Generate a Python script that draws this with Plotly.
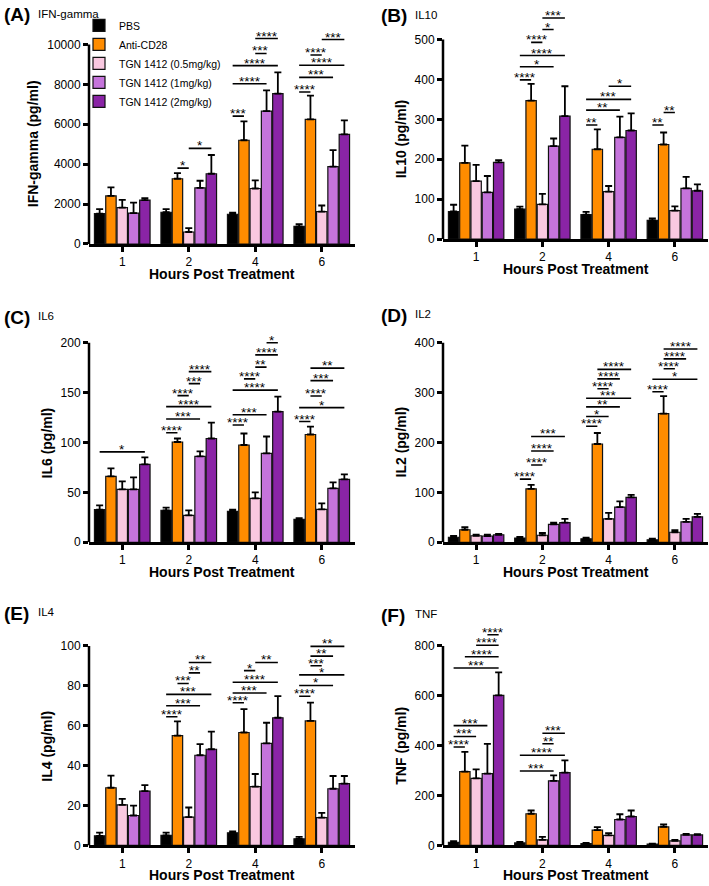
import plotly.graph_objects as go

hours = ['1', '2', '4', '6']
treatments = ['PBS', 'Anti-CD28', 'TGN 1412 (0.5mg/kg)', 'TGN 1412 (1mg/kg)', 'TGN 1412 (2mg/kg)']
colors = ['#000000', '#FF8C00', '#F9C8E0', '#C574DB', '#8A24A6']

# mean values, one row per treatment, one column per hour
ifn_mean = [[1520, 1590, 1490, 880], [2410, 3270, 5200, 6250], [1820, 600, 2780, 1620],
            [1550, 2810, 6660, 3880], [2200, 3520, 7540, 5490]]
ifn_sem = [[230, 160, 80, 120], [430, 280, 950, 1190], [390, 190, 410, 310],
           [520, 360, 1040, 820], [100, 940, 1060, 710]]
il10_mean = [[69, 75, 61, 47], [191, 347, 225, 237], [145, 87, 119, 71],
             [117, 233, 255, 127], [192, 308, 272, 121]]
il10_sem = [[17, 6, 7, 5], [43, 42, 50, 30], [41, 26, 14, 11],
            [41, 19, 52, 29], [6, 75, 43, 16]]
il6_mean = [[32.6, 32, 31, 23], [66, 100.5, 97.5, 108], [53, 27, 44, 33],
            [53, 86, 89, 54], [78, 104, 131, 63]]
il6_sem = [[4.4, 2.6, 1.6, 1.2], [8, 3.5, 11.5, 8], [8, 5, 6, 6],
           [12, 5, 17, 6], [7, 16, 15, 5]]
il2_mean = [[10, 8.5, 7, 5], [25, 107, 197, 258], [13, 14, 47, 20],
            [12.5, 36, 70.5, 41], [15, 39.5, 90, 51]]
il2_sem = [[2.5, 2, 2, 2], [5, 8, 22, 35], [2, 4.5, 12, 4],
           [2.5, 3.5, 11.5, 6], [1.5, 7.5, 5, 6]]
il4_mean = [[4.8, 5, 6.3, 3.3], [28.9, 55, 56.6, 62.4], [20.3, 14.2, 29.5, 13.9],
            [15, 45.2, 51.2, 28.4], [27.2, 48.2, 64, 31]]
il4_sem = [[1.6, 1.4, 0.7, 1], [6.1, 7.2, 11.7, 9.2], [3, 4.8, 6.3, 2.4],
           [5, 5.6, 10.3, 6.4], [3, 8.8, 10.8, 3.8]]
tnf_mean = [[12, 10, 7, 5], [296, 127, 61, 74], [269, 22, 40, 18],
            [288, 259, 104, 42], [602, 292, 116, 42]]
tnf_sem = [[5, 4, 3, 2], [79, 13, 12, 10], [36, 12, 9, 4],
           [119, 22, 21, 4], [92, 49, 24, 3]]

# significance brackets: (hour index, from treatment, to treatment, level, label)
ifn_sig = [(1, 1, 2, 3800, '*'), (1, 2, 4, 4790, '*'),
           (2, 0, 1, 6410, '***'), (2, 0, 3, 8030, '****'), (2, 0, 4, 8940, '****'),
           (2, 2, 3, 9550, '***'), (2, 2, 4, 10300, '****'),
           (3, 0, 1, 7620, '****'), (3, 0, 3, 8350, '***'), (3, 0, 4, 8960, '****'),
           (3, 1, 2, 9470, '****'), (3, 2, 4, 10250, '***')]
il10_sig = [(1, 0, 1, 399, '****'), (1, 0, 3, 432, '*'), (1, 0, 4, 460, '****'),
            (1, 1, 2, 493, '****'), (1, 2, 3, 525, '*'), (1, 2, 4, 554, '***'),
            (2, 0, 1, 286, '**'), (2, 0, 3, 323, '**'), (2, 0, 4, 350, '***'), (2, 2, 4, 383, '*'),
            (3, 0, 1, 286, '**'), (3, 1, 2, 317, '**')]
il6_sig = [(0, 0, 4, 90.6, '*'),
           (1, 0, 1, 109.7, '****'), (1, 0, 3, 123.6, '***'), (1, 0, 4, 136, '****'),
           (1, 1, 2, 147, '****'), (1, 2, 3, 159, '***'), (1, 2, 4, 171, '****'),
           (2, 0, 1, 117.6, '****'), (2, 0, 3, 127.8, '***'), (2, 0, 4, 152.5, '****'),
           (2, 1, 2, 163.8, '****'), (2, 2, 3, 175.6, '**'), (2, 2, 4, 187.8, '****'),
           (2, 3, 4, 200, '*'),
           (3, 0, 1, 121, '****'), (3, 0, 4, 135, '*'), (3, 1, 2, 146.6, '****'),
           (3, 1, 3, 162, '***'), (3, 1, 4, 174.6, '**')]
il2_sig = [(1, 0, 1, 126.5, '****'), (1, 1, 2, 155, '****'), (1, 1, 3, 183, '****'),
           (1, 1, 4, 212, '***'),
           (2, 0, 1, 232.6, '****'), (2, 0, 2, 252, '*'), (2, 0, 3, 271.5, '**'),
           (2, 0, 4, 288.6, '***'), (2, 1, 2, 307.7, '****'), (2, 1, 3, 327.5, '****'),
           (2, 1, 4, 346.6, '****'),
           (3, 0, 1, 301.8, '****'), (3, 0, 4, 326.8, '*'), (3, 1, 2, 348, '****'),
           (3, 1, 3, 367.7, '****'), (3, 1, 4, 387.5, '****')]
il4_sig = [(1, 0, 1, 64.5, '****'), (1, 0, 3, 70, '***'), (1, 0, 4, 75.7, '***'),
           (1, 1, 2, 81.2, '***'), (1, 2, 3, 86.5, '**'), (1, 2, 4, 91.7, '**'),
           (2, 0, 1, 71.5, '****'), (2, 0, 3, 76.4, '***'), (2, 0, 4, 81.8, '****'),
           (2, 1, 2, 87.6, '*'), (2, 2, 4, 91.7, '**'),
           (3, 0, 1, 74.8, '****'), (3, 0, 3, 80.2, '*'), (3, 0, 4, 85.5, '*'),
           (3, 1, 2, 90.1, '***'), (3, 1, 3, 94.9, '**'), (3, 1, 4, 99.8, '**')]
tnf_sig = [(0, 0, 1, 394.7, '****'), (0, 0, 2, 437, '***'), (0, 0, 3, 480.5, '***'),
           (0, 0, 4, 711.6, '***'), (0, 1, 4, 756.4, '****'), (0, 2, 4, 802.6, '****'),
           (0, 3, 4, 845, '****'),
           (1, 0, 3, 298.3, '***'), (1, 0, 4, 361.7, '****'), (1, 2, 3, 408, '**'),
           (1, 2, 4, 450, '***')]

W, H = 709, 886
FONT = 'Arial, Liberation Sans, sans-serif'

# box = (left px, right px, zero px, top-tick px)
panels = [
    dict(letter='(A)', name='IFN-gamma', ytitle='IFN-gamma (pg/ml)', mean=ifn_mean, sem=ifn_sem,
         sig=ifn_sig, ytop=10000, dtick=2000, ymax=10800, box=(89, 355, 243, 41), tx=33, ly=11),
    dict(letter='(B)', name='IL10', ytitle='IL10 (pg/ml)', mean=il10_mean, sem=il10_sem,
         sig=il10_sig, ytop=500, dtick=100, ymax=570, box=(443, 708, 238, 36), tx=401, ly=12),
    dict(letter='(C)', name='IL6', ytitle='IL6 (pg/ml)', mean=il6_mean, sem=il6_sem,
         sig=il6_sig, ytop=200, dtick=50, ymax=210, box=(89, 355, 545, 343), tx=47, ly=317),
    dict(letter='(D)', name='IL2', ytitle='IL2 (pg/ml)', mean=il2_mean, sem=il2_sem,
         sig=il2_sig, ytop=400, dtick=100, ymax=405, box=(443, 708, 545, 343), tx=401, ly=315),
    dict(letter='(E)', name='IL4', ytitle='IL4 (pg/ml)', mean=il4_mean, sem=il4_sem,
         sig=il4_sig, ytop=100, dtick=20, ymax=105, box=(89, 355, 852, 650), tx=47, ly=617),
    dict(letter='(F)', name='TNF', ytitle='TNF (pg/ml)', mean=tnf_mean, sem=tnf_sem,
         sig=tnf_sig, ytop=800, dtick=200, ymax=860, box=(443, 708, 852, 650), tx=401, ly=619),
]

BARGAP = 0.15
n = len(treatments)
slot = (1 - BARGAP) / n


def bar_center(h, k):
    return h - (1 - BARGAP) / 2 + slot * (k + 0.5)


fig = go.Figure()
annotations = []
shapes = []

for i, p in enumerate(panels):
    sfx = '' if i == 0 else str(i + 1)
    xa, ya = 'x' + sfx, 'y' + sfx
    left, right, zero, top = p['box']
    pxu = (zero - top) / p['ytop']
    dom_top = zero - p['ymax'] * pxu

    for k, t in enumerate(treatments):
        fig.add_trace(go.Bar(
            x=list(range(len(hours))), y=p['mean'][k], name=t, legendgroup=t,
            showlegend=(i == 0), xaxis=xa, yaxis=ya,
            marker=dict(color=colors[k], line=dict(color='#111111', width=1.2)),
            error_y=dict(type='data', array=p['sem'][k], arrayminus=[0] * len(hours),
                         symmetric=False, color='#000000', thickness=1.8, width=3.5),
        ))

    # significance brackets
    bx, by = [], []
    for h, a, b, lev, lab in p['sig']:
        x0, x1 = bar_center(h, a), bar_center(h, b)
        bx += [x0, x1, None]
        by += [lev, lev, None]
        annotations.append(dict(x=(x0 + x1) / 2, y=lev, xref=xa, yref=ya, text=lab,
                                showarrow=False, yanchor='bottom', yshift=-7,
                                font=dict(size=13.5, color='#000000', family=FONT)))
    fig.add_trace(go.Scatter(x=bx, y=by, mode='lines', xaxis=xa, yaxis=ya, showlegend=False,
                             line=dict(color='#000000', width=1.6), hoverinfo='skip'))

    fig.layout['xaxis' + sfx] = dict(
        domain=[left / W, right / W], anchor=ya, range=[-0.5, len(hours) - 0.5],
        tickvals=list(range(len(hours))), ticktext=hours, showgrid=False, zeroline=False,
        showline=True, linecolor='#000000', linewidth=2.5, ticks='outside', ticklen=5,
        tickwidth=2.5, tickcolor='#000000', tickfont=dict(size=12, color='#000000', family=FONT))
    fig.layout['yaxis' + sfx] = dict(
        domain=[1 - zero / H, 1 - dom_top / H], anchor=xa, range=[0, p['ymax']],
        tickvals=list(range(0, p['ytop'] + 1, p['dtick'])), tickformat='d',
        showgrid=False, zeroline=False,
        showline=False, ticks='outside', ticklen=5, tickwidth=2.5, tickcolor='#000000',
        tickfont=dict(size=12, color='#000000', family=FONT))

    shapes.append(dict(type='line', xref='paper', yref=ya, x0=left / W, x1=left / W,
                       y0=0, y1=p['ytop'], line=dict(color='#000000', width=2.5)))

    annotations.append(dict(x=p['tx'] / W, y=p['ytop'] / 2, xref='paper', yref=ya,
                            text='<b>' + p['ytitle'] + '</b>', textangle=-90, showarrow=False,
                            xanchor='center', yanchor='middle',
                            font=dict(size=14, color='#000000', family=FONT)))
    annotations.append(dict(x=(left + right) / 2 / W, y=1 - (zero + 30) / H, xref='paper',
                            yref='paper', text='<b>Hours Post Treatment</b>', showarrow=False,
                            xanchor='center', yanchor='middle',
                            font=dict(size=14, color='#000000', family=FONT)))
    lx = 2 if left < 300 else 379
    annotations.append(dict(x=lx / W, y=1 - p['ly'] / H, xref='paper', yref='paper',
                            text='<b>' + p['letter'] + '</b>', showarrow=False,
                            xanchor='left', yanchor='middle',
                            font=dict(size=19, color='#000000', family=FONT)))
    annotations.append(dict(x=(lx + 34) / W, y=1 - (p['ly'] - 1) / H, xref='paper', yref='paper',
                            text=p['name'], showarrow=False, xanchor='left', yanchor='middle',
                            font=dict(size=11.5, color='#000000', family=FONT)))

fig.update_layout(
    width=W, height=H, margin=dict(l=0, r=0, t=0, b=0),
    paper_bgcolor='white', plot_bgcolor='white',
    barmode='group', bargap=BARGAP, bargroupgap=0.08,
    annotations=annotations, shapes=shapes,
    legend=dict(x=79 / W, y=1 - 7 / H, xanchor='left', yanchor='top',
                bgcolor='rgba(0,0,0,0)', tracegroupgap=0,
                font=dict(size=10.5, color='#000000', family=FONT)),
    font=dict(family=FONT, color='#000000'),
)

fig.write_html('out.html', config={'displayModeBar': False},
               post_script="document.body.style.margin='0';document.body.style.overflow='hidden';")
